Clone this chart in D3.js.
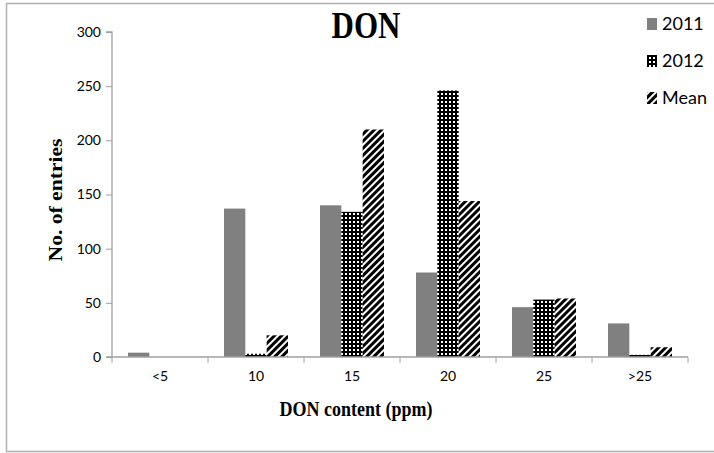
<!DOCTYPE html>
<html>
<head>
<meta charset="utf-8">
<script src="https://cdn.jsdelivr.net/npm/d3@7/dist/d3.min.js"></script>
<style>
  html, body { margin: 0; background: #fff; overflow: hidden; }
  svg { display: block; }
</style>
</head>
<body>
<div id="chart"></div>
<script>
// values
const categories = ['<5', '10', '15', '20', '25', '>25'];
const seriesNames = ['2011', '2012', 'Mean'];
const values2011 = [4, 137, 140, 78, 46, 31];
const values2012 = [0, 3, 134, 246, 53, 2];
const valuesMean = [0, 20, 210, 144, 54, 9];
const yTicks = [0, 50, 100, 150, 200, 250, 300];

const seriesValues = [values2011, values2012, valuesMean];

const width = 714, height = 453;
const margin = { top: 32, right: 26, bottom: 96, left: 112 };
const serif = '"Liberation Serif", "Times New Roman", serif';
const sans = 'Lato, "Open Sans", sans-serif';

const svg = d3.select('#chart').append('svg')
  .attr('width', width)
  .attr('height', height);

// fill patterns
const defs = svg.append('defs');
const dots = defs.append('pattern')
  .attr('id', 'pat2012')
  .attr('patternUnits', 'userSpaceOnUse')
  .attr('width', 4).attr('height', 4);
dots.append('rect').attr('width', 4).attr('height', 4).attr('fill', '#000');
dots.append('rect').attr('x', 1).attr('y', 1).attr('width', 2).attr('height', 2).attr('fill', '#fff');

const stripes = defs.append('pattern')
  .attr('id', 'patMean')
  .attr('patternUnits', 'userSpaceOnUse')
  .attr('width', 5).attr('height', 5)
  .attr('patternTransform', 'rotate(45)');
stripes.append('rect').attr('width', 5).attr('height', 5).attr('fill', '#fff');
stripes.append('rect').attr('width', 3).attr('height', 5).attr('fill', '#000');

const fills = ['#808080', 'url(#pat2012)', 'url(#patMean)'];

// chart frame (right edge is off the picture)
svg.append('path')
  .attr('d', 'M730,3.5H6.5V451.5H730')
  .attr('fill', 'none')
  .attr('stroke', '#b0b0b0')
  .attr('stroke-width', 1.5);

const x0 = d3.scaleBand()
  .domain(categories)
  .range([margin.left, width - margin.right])
  .paddingInner(0)
  .paddingOuter(0);

const barW = x0.bandwidth() / 4.5;
const x1 = d3.scaleBand()
  .domain(seriesNames)
  .range([barW * 0.75, x0.bandwidth() - barW * 0.75]);

const y = d3.scaleLinear()
  .domain([0, 300])
  .range([height - margin.bottom, margin.top]);

const g = svg.append('g');

seriesNames.forEach((name, si) => {
  g.selectAll('.bar-' + si)
    .data(seriesValues[si])
    .enter()
    .append('rect')
    .attr('x', (d, i) => x0(categories[i]) + x1(name))
    .attr('y', d => y(d))
    .attr('width', x1.bandwidth())
    .attr('height', d => y(0) - y(d))
    .attr('fill', fills[si]);
});

// axes
const yAxis = svg.append('g')
  .attr('transform', `translate(${margin.left},0)`)
  .call(d3.axisLeft(y).tickValues(yTicks).tickSize(6).tickPadding(5));

const xAxis = svg.append('g')
  .attr('transform', `translate(0,${y(0)})`)
  .call(d3.axisBottom(x0).tickSize(0).tickPadding(14));

xAxis.selectAll('.tick-mark')
  .data(d3.range(categories.length + 1))
  .enter()
  .append('line')
  .attr('x1', i => margin.left + i * x0.bandwidth())
  .attr('x2', i => margin.left + i * x0.bandwidth())
  .attr('y1', 0).attr('y2', 6)
  .attr('stroke', '#a0a0a0');

[yAxis, xAxis].forEach(ax => {
  ax.select('.domain').attr('stroke', '#a0a0a0').attr('stroke-width', 1.3);
  ax.selectAll('.tick line').attr('stroke', '#a0a0a0');
  ax.selectAll('text')
    .attr('font-family', sans)
    .attr('font-size', 14)
    .attr('fill', '#000');
});
yAxis.select('.domain').attr('d', `M-6,${margin.top}H0V${y(0)}`);
xAxis.select('.domain').attr('d', `M${margin.left - 6},0H${width - margin.right}`);

// titles (the reference is stretched vertically a little)
svg.append('text')
  .attr('transform', 'translate(366,38) scale(1,1.25)')
  .attr('text-anchor', 'middle')
  .attr('font-family', serif)
  .attr('font-weight', 'bold')
  .attr('font-size', 31)
  .text('DON');

svg.append('text')
  .attr('transform', 'translate(356,416) scale(1,1.2)')
  .attr('text-anchor', 'middle')
  .attr('font-family', serif)
  .attr('font-weight', 'bold')
  .attr('font-size', 18)
  .text('DON content (ppm)');

svg.append('text')
  .attr('transform', 'translate(62,200) scale(1,1.2) rotate(-90)')
  .attr('text-anchor', 'middle')
  .attr('font-family', serif)
  .attr('font-weight', 'bold')
  .attr('font-size', 18)
  .text('No. of entries');

// legend
const legend = svg.append('g');
seriesNames.forEach((name, si) => {
  const ly = 24 + si * 37;
  legend.append('rect')
    .attr('x', 647).attr('y', ly - 6)
    .attr('width', 10).attr('height', 12)
    .attr('fill', fills[si]);
  legend.append('text')
    .attr('x', 662).attr('y', ly + 6)
    .attr('font-family', sans)
    .attr('font-size', 18)
    .text(name);
});
</script>
</body>
</html>
